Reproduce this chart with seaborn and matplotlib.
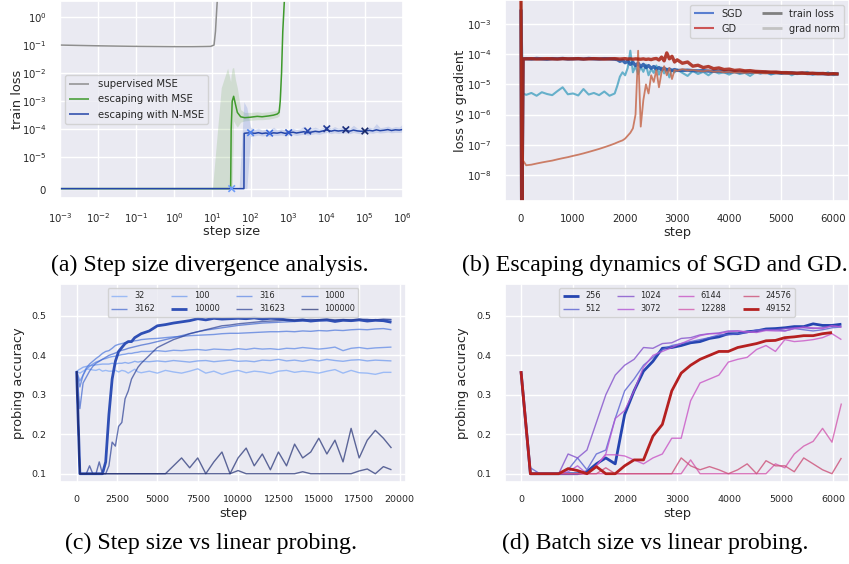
"""
Escaping / probing figure: four panels with captions.
"""

import numpy as np
import matplotlib
matplotlib.use("Agg")
import matplotlib.pyplot as plt
from matplotlib.lines import Line2D
import seaborn as sns

sns.set_theme(style="darkgrid")
plt.rcParams["font.family"] = ["DejaVu Sans"]
plt.rcParams["axes.labelsize"] = 9.3
plt.rcParams["xtick.labelsize"] = 7.3
plt.rcParams["ytick.labelsize"] = 7.3
plt.rcParams["lines.solid_capstyle"] = "butt"

W, H = 849, 564

# ---------------- (a) step size divergence ----------------
sup_x = [1e-3, 3e-3, 1e-2, 3e-2, 1e-1, 3e-1, 1, 3, 6, 9, 11, 12, 13, 14]
sup_loss = [0.10, 0.097, 0.094, 0.092, 0.090, 0.089, 0.088, 0.088, 0.089, 0.090, 0.10, 0.3, 2.0, 10.0]

mse_x = [1e-3, 10, 17, 20, 25, 30, 31, 33, 36, 40, 45, 55, 70, 100, 150, 200, 300, 400, 500, 560, 600, 650, 700, 800]
mse_loss = np.array([0, 0, 0, 0, 0, 0, 10, 100, 150, 80, 40, 28, 26, 27, 29, 28, 30, 32, 35, 40, 100, 1000, 30000, 1e6]) * 1e-5
mse_lo = np.array([0, 0, 0, 0, 0, 0, 0, 0, 20, 15, 12, 18, 20, 21, 22, 22, 23, 25, 27, 30, 60, 800, 25000, 1e6]) * 1e-5
mse_hi = np.array([0, 0, 300, 600, 1500, 500, 900, 1500, 1600, 600, 300, 50, 40, 40, 42, 40, 42, 45, 48, 55, 150, 1500, 40000, 1e6]) * 1e-5

nmse_x = [1e-3, 1, 10, 50, 67, 68, 80, 100, 130, 160, 200, 250, 316, 400, 500, 630, 800, 1000,
          1300, 1600, 2000, 2500, 3160, 4000, 5000, 6300, 8000, 1e4, 1.3e4, 1.6e4, 2e4, 2.5e4,
          3.16e4, 4e4, 5e4, 6.3e4, 8e4, 1e5, 1.3e5, 1.6e5, 2e5, 2.5e5, 3.16e5, 4e5, 5e5, 6.3e5, 8e5, 1e6]
nmse_loss = np.array([0, 0, 0, 0, 0,
                      7.2, 7.4, 7.5, 7.2, 7.6, 7.1, 7.4, 7.0, 7.5, 7.3,
                      7.8, 7.2, 7.5, 7.9, 7.4, 7.8, 8.2, 7.6, 8.0, 8.5,
                      8.1, 8.8, 9.5, 8.6, 9.2, 8.7, 9.0, 9.1, 8.6, 9.4,
                      8.8, 8.5, 8.7, 9.2, 8.8, 9.6, 9.0, 9.3, 9.8, 9.1,
                      9.6, 9.4, 9.9]) * 1e-5
nmse_lo = np.array([0, 0, 0, 0, 0, 0, 0,
                    5.5, 5.9, 6.2, 5.8, 6.0, 5.7, 6.1, 6.0, 6.3, 5.9,
                    6.1, 6.5, 6.0, 6.4, 6.7, 6.2, 6.6, 7.0, 6.6, 7.2,
                    7.7, 7.0, 7.5, 7.1, 7.4, 7.4, 7.0, 7.7, 7.2, 6.9,
                    7.1, 7.5, 7.2, 7.8, 7.4, 7.6, 8.0, 7.5, 7.8, 7.7,
                    8.1]) * 1e-5
nmse_hi = np.array([0, 0, 0, 0,
                    100, 90, 60, 12, 10, 11, 9.5, 10, 9, 12,
                    9.5, 10.5, 9.8, 10, 11, 9.8, 10.5, 13, 9.8, 11,
                    12, 10.5, 11.5, 14, 10.8, 12.5, 11, 11.5, 12, 10.8,
                    14, 11, 10.5, 11, 12, 11, 16, 11.5, 12, 13,
                    11.5, 12.5, 12, 16]) * 1e-5

probe_steps = [32, 100, 316, 1000, 3162, 10000, 31623, 100000]
probe_loss = np.array([0, 7.6, 7.3, 7.6, 8.7, 10.5, 9.7, 8.7]) * 1e-5

# ---------------- (b) escaping dynamics ----------------
steps_b = [0, 15, 40, 100, 200, 300, 400, 500, 600, 700, 800, 900, 1000, 1100, 1200, 1300,
           1400, 1500, 1600, 1700, 1800, 1850, 1900, 1950, 2000, 2050, 2100, 2150, 2200,
           2250, 2300, 2350, 2400, 2450, 2500, 2550, 2600, 2650, 2700, 2750, 2800, 2850,
           2900, 2950, 3000, 3100, 3200, 3300, 3400, 3500, 3600, 3700, 3800, 3900, 4000,
           4100, 4200, 4300, 4400, 4500, 4600, 4700, 4800, 4900, 5000, 5100, 5200, 5300,
           5400, 5500, 5600, 5700, 5800, 5900, 6000, 6100]
sgd_loss = np.array([300, 1e-5, 7.0,
                     7.1, 6.9, 7.2, 7.0, 6.8, 7.1, 7.0, 7.2, 6.9, 7.0, 7.1, 6.9, 7.2, 7.0, 6.9, 7.1, 7.0, 6.8,
                     6.6, 5.8, 6.3, 5.2, 5.9, 4.6, 5.4, 4.2, 5.0, 3.8, 4.6, 3.6, 4.2, 3.4, 3.9, 3.2,
                     3.6, 3.1, 3.4, 3.0, 3.2, 2.9, 3.1, 2.9,
                     2.9, 2.95, 2.85, 2.8, 2.85, 2.75, 2.7, 2.75, 2.65, 2.6, 2.65, 2.55, 2.6, 2.5, 2.55,
                     2.45, 2.5, 2.4, 2.45, 2.4, 2.35, 2.4, 2.3, 2.35, 2.3, 2.25, 2.3, 2.25, 2.2, 2.25, 2.2]) * 1e-5
gd_loss = np.array([1000, 1e-5, 7.0,
                    7.0, 7.1, 6.9, 7.0, 7.1, 7.0, 6.9, 7.1, 7.0, 7.0, 7.1, 6.9, 7.0, 7.1, 7.0, 6.9, 7.0, 7.1,
                    7.0, 6.9, 7.0, 7.1, 6.9, 7.0, 6.8, 7.0, 6.9, 6.8, 7.0, 6.7, 6.9, 6.6, 7.0, 7.2,
                    6.4, 8.0, 6.0, 11.0, 7.0, 8.5, 5.5, 6.5,
                    5.0, 5.5, 4.0, 4.3, 3.6, 3.9, 3.3, 3.5, 3.1, 3.2, 2.9, 3.0, 2.8, 2.85, 2.7,
                    2.65, 2.6, 2.55, 2.55, 2.45, 2.45, 2.4, 2.35, 2.4, 2.3, 2.35, 2.25, 2.3, 2.2, 2.25, 2.2]) * 1e-5
sgd_grad = np.array([500, 50, 0.5,
                     0.45, 0.52, 0.42, 0.55, 0.48, 0.44, 0.6, 0.8, 0.47, 0.5, 0.43, 0.7, 0.46, 0.52, 0.44, 0.58, 0.42, 0.5,
                     0.9, 1.8, 2.5, 2.0, 3.5, 13.0, 2.5, 4.0, 2.2, 3.8, 2.6, 4.5, 2.0, 3.2, 2.4, 4.2,
                     2.1, 3.6, 2.3, 3.3, 1.7, 3.0, 2.5, 3.1,
                     2.4, 1.9, 2.8, 2.2, 2.6, 2.0, 2.7, 2.3, 2.5, 2.1, 2.6, 2.2, 2.4, 1.9, 2.5,
                     2.3, 2.6, 2.1, 2.4, 2.2, 2.5, 2.0, 2.4, 2.2, 2.6, 2.1, 2.3, 2.2, 2.5, 2.0, 2.3]) * 1e-5
gd_grad = np.array([1000, 0.01, 0.003,
                    0.0021, 0.0022, 0.0024, 0.0026, 0.0028, 0.003, 0.0033, 0.0036, 0.0039, 0.0043,
                    0.0047, 0.0052, 0.0058, 0.0065, 0.0073, 0.0083, 0.0095, 0.011,
                    0.012, 0.013, 0.014, 0.016, 0.02, 0.025, 0.035, 0.1, 13.0, 0.04, 0.3, 1.0,
                    0.5, 2.0, 1.2, 3.0, 0.8, 2.5, 4.0, 2.0, 3.5, 1.5, 3.0, 2.8,
                    3.2, 2.9, 3.0, 2.8, 2.7, 2.9, 2.6, 2.7, 2.5, 2.6, 2.45, 2.5, 2.4, 2.5, 2.35,
                    2.4, 2.3, 2.45, 2.3, 2.35, 2.25, 2.3, 2.3, 2.2, 2.3, 2.25, 2.2, 2.3, 2.15, 2.25, 2.2]) * 1e-5

# ---------------- (c) step size vs probing ----------------
steps_c = [0, 200, 400, 600, 800, 1000, 1200, 1400, 1600, 1800, 2000, 2200, 2400, 2600, 2800,
           3000, 3200, 3400, 3600, 3800, 4000, 4500, 5000, 5500, 6000, 6500, 7000, 7500, 8000,
           8500, 9000, 9500, 10000, 10500, 11000, 11500, 12000, 12500, 13000, 13500, 14000,
           14500, 15000, 15500, 16000, 16500, 17000, 17500, 18000, 18500, 19000, 19500]
step_sizes = ["32", "100", "316", "1000", "3162", "10000", "31623", "100000"]
acc_32 = [0.36, 0.355, 0.36, 0.365, 0.365, 0.363, 0.362, 0.365, 0.36, 0.362, 0.36, 0.36, 0.362,
          0.358, 0.362, 0.36, 0.355, 0.36, 0.365, 0.358, 0.356,
          0.36, 0.355, 0.362, 0.358, 0.355, 0.36, 0.366, 0.355, 0.36, 0.352, 0.358, 0.362, 0.356,
          0.36, 0.358, 0.354, 0.36, 0.362, 0.357, 0.36, 0.358, 0.355, 0.36, 0.364, 0.355, 0.362,
          0.356, 0.355, 0.352, 0.357, 0.357]
acc_100 = [0.36, 0.365, 0.37, 0.372, 0.374, 0.375, 0.376, 0.377, 0.378, 0.378, 0.378, 0.38, 0.378,
           0.38, 0.38, 0.382, 0.38, 0.382, 0.385, 0.383, 0.385,
           0.384, 0.386, 0.384, 0.387, 0.385, 0.383, 0.386, 0.387, 0.384, 0.386, 0.388, 0.385,
           0.386, 0.384, 0.388, 0.387, 0.39, 0.386, 0.388, 0.385, 0.389, 0.386, 0.39, 0.387,
           0.385, 0.388, 0.389, 0.386, 0.388, 0.387, 0.386]
acc_316 = [0.36, 0.335, 0.35, 0.365, 0.372, 0.378, 0.383, 0.386, 0.39, 0.392, 0.395, 0.397, 0.398,
           0.40, 0.402, 0.403, 0.405, 0.405, 0.407, 0.408, 0.41,
           0.41, 0.412, 0.41, 0.413, 0.412, 0.414, 0.415, 0.413, 0.416, 0.415, 0.414, 0.417, 0.415,
           0.418, 0.416, 0.417, 0.415, 0.418, 0.417, 0.42, 0.418, 0.416, 0.418, 0.421, 0.412,
           0.418, 0.42, 0.417, 0.419, 0.42, 0.421]
acc_1000 = [0.36, 0.32, 0.35, 0.368, 0.378, 0.385, 0.392, 0.398, 0.405, 0.41, 0.412, 0.418, 0.425,
            0.428, 0.43, 0.432, 0.434, 0.435, 0.437, 0.438, 0.44,
            0.442, 0.443, 0.445, 0.447, 0.448, 0.45, 0.451, 0.452, 0.453, 0.455, 0.456, 0.456,
            0.457, 0.458, 0.459, 0.46, 0.46, 0.461, 0.46, 0.462, 0.461, 0.463, 0.462, 0.464,
            0.463, 0.465, 0.466, 0.465, 0.467, 0.468, 0.465]
acc_3162 = [0.36, 0.265, 0.33, 0.345, 0.36, 0.372, 0.38, 0.385, 0.39, 0.395, 0.40, 0.403, 0.406,
             0.41, 0.413, 0.415, 0.418, 0.42, 0.422, 0.424, 0.426,
             0.43, 0.435, 0.44, 0.445, 0.45, 0.455, 0.46, 0.464, 0.467, 0.47, 0.473, 0.476, 0.478,
             0.48, 0.482, 0.483, 0.484, 0.485, 0.486, 0.487, 0.487, 0.488, 0.488, 0.489, 0.49,
             0.488, 0.49, 0.491, 0.489, 0.49, 0.49]
acc_10000 = [0.36, 0.10, 0.10, 0.10, 0.10, 0.10, 0.10, 0.10, 0.10, 0.13, 0.25, 0.34, 0.385, 0.41,
             0.42, 0.43, 0.435, 0.435, 0.445, 0.45, 0.455,
             0.462, 0.475, 0.478, 0.482, 0.485, 0.488, 0.493, 0.49, 0.494, 0.492, 0.493, 0.494,
             0.493, 0.495, 0.492, 0.494, 0.493, 0.49, 0.488, 0.49, 0.487, 0.489, 0.49, 0.486,
             0.489, 0.488, 0.49, 0.487, 0.489, 0.488, 0.484]
acc_31623 = [0.36, 0.10, 0.10, 0.10, 0.12, 0.10, 0.10, 0.13, 0.10, 0.10, 0.12, 0.18, 0.17, 0.22,
             0.23, 0.29, 0.31, 0.34, 0.355, 0.37, 0.38,
             0.40, 0.42, 0.43, 0.44, 0.447, 0.455, 0.46, 0.465, 0.47, 0.475, 0.477, 0.48, 0.482,
             0.484, 0.486, 0.487, 0.488, 0.49, 0.489, 0.49, 0.491, 0.49, 0.492, 0.49, 0.491,
             0.49, 0.492, 0.491, 0.49, 0.492, 0.491]
acc_100000 = [0.36, 0.10, 0.10, 0.10, 0.10, 0.10, 0.10, 0.10, 0.10, 0.10, 0.10, 0.10, 0.10, 0.10,
              0.10, 0.10, 0.10, 0.10, 0.10, 0.10, 0.10,
              0.10, 0.10, 0.10, 0.12, 0.14, 0.115, 0.14, 0.10, 0.13, 0.155, 0.10, 0.14, 0.165,
              0.12, 0.15, 0.11, 0.155, 0.12, 0.175, 0.14, 0.155, 0.19, 0.15, 0.185, 0.13, 0.215,
              0.14, 0.185, 0.21, 0.19, 0.165]
acc_extra = [0.36, 0.10, 0.10, 0.10, 0.10, 0.10, 0.10, 0.10, 0.10, 0.10, 0.10, 0.10, 0.10, 0.10,
             0.10, 0.10, 0.10, 0.10, 0.10, 0.10, 0.10,
             0.10, 0.10, 0.10, 0.10, 0.10, 0.10, 0.10, 0.10, 0.10, 0.10, 0.10, 0.108, 0.10,
             0.10, 0.10, 0.10, 0.10, 0.10, 0.10, 0.105, 0.10, 0.10, 0.10, 0.10, 0.10, 0.10,
             0.107, 0.112, 0.10, 0.118, 0.11]
acc_c = [acc_32, acc_100, acc_316, acc_1000, acc_3162, acc_10000, acc_31623, acc_100000]

# ---------------- (d) batch size vs probing ----------------
steps_d = [0, 181, 362, 543, 724, 905, 1086, 1267, 1448, 1629, 1810, 1991, 2172, 2353, 2534,
           2715, 2896, 3077, 3258, 3439, 3620, 3801, 3982, 4163, 4344, 4525, 4706, 4887, 5068,
           5249, 5430, 5611, 5792, 5973, 6154]
batch_sizes = ["256", "512", "1024", "3072", "6144", "12288", "24576", "49152"]
acc_256 = [0.36, 0.10, 0.10, 0.10, 0.10, 0.10, 0.10, 0.105, 0.125, 0.14, 0.125, 0.25, 0.31, 0.36,
           0.385, 0.418, 0.42, 0.425, 0.432, 0.435, 0.443, 0.447, 0.455, 0.455, 0.46, 0.462,
           0.467, 0.468, 0.47, 0.473, 0.473, 0.48, 0.476, 0.476, 0.479]
acc_512 = [0.36, 0.115, 0.10, 0.10, 0.10, 0.11, 0.14, 0.11, 0.15, 0.16, 0.24, 0.31, 0.34, 0.375,
           0.395, 0.415, 0.425, 0.43, 0.435, 0.44, 0.445, 0.452, 0.452, 0.455, 0.458, 0.465,
           0.465, 0.465, 0.462, 0.468, 0.465, 0.462, 0.465, 0.47, 0.472]
acc_1024 = [0.36, 0.10, 0.10, 0.10, 0.10, 0.15, 0.14, 0.16, 0.23, 0.30, 0.35, 0.375, 0.39, 0.42,
            0.418, 0.43, 0.432, 0.443, 0.445, 0.452, 0.455, 0.457, 0.462, 0.462, 0.458, 0.462,
            0.465, 0.465, 0.468, 0.47, 0.47, 0.468, 0.47, 0.475, 0.473]
acc_3072 = [0.36, 0.10, 0.10, 0.10, 0.10, 0.105, 0.12, 0.10, 0.12, 0.15, 0.24, 0.26, 0.31, 0.37,
            0.40, 0.41, 0.42, 0.43, 0.44, 0.45, 0.455, 0.455, 0.46, 0.462, 0.46, 0.458, 0.463,
            0.462, 0.462, 0.468, 0.472, 0.47, 0.468, 0.475, 0.472]
acc_6144 = [0.36, 0.10, 0.10, 0.10, 0.10, 0.10, 0.10, 0.10, 0.12, 0.148, 0.148, 0.145, 0.135,
            0.125, 0.14, 0.15, 0.19, 0.19, 0.285, 0.33, 0.34, 0.35, 0.383, 0.39, 0.395, 0.415,
            0.425, 0.41, 0.44, 0.435, 0.437, 0.44, 0.445, 0.455, 0.44]
acc_12288 = [0.36, 0.10, 0.10, 0.10, 0.10, 0.10, 0.10, 0.10, 0.10, 0.10, 0.10, 0.10, 0.10, 0.10,
             0.10, 0.10, 0.10, 0.10, 0.135, 0.10, 0.10, 0.10, 0.10, 0.10, 0.10, 0.10, 0.10,
             0.125, 0.115, 0.15, 0.17, 0.182, 0.215, 0.18, 0.278]
acc_24576 = [0.36, 0.10, 0.10, 0.10, 0.10, 0.10, 0.10, 0.10, 0.10, 0.115, 0.10, 0.10, 0.10, 0.10,
             0.10, 0.10, 0.10, 0.14, 0.12, 0.11, 0.118, 0.11, 0.10, 0.11, 0.125, 0.10, 0.133,
             0.12, 0.12, 0.105, 0.14, 0.125, 0.11, 0.10, 0.14]
acc_49152 = [0.36, 0.10, 0.10, 0.10, 0.10, 0.113, 0.108, 0.10, 0.118, 0.10, 0.10, 0.12, 0.135,
             0.135, 0.195, 0.225, 0.31, 0.355, 0.375, 0.39, 0.40, 0.41, 0.41, 0.42, 0.425, 0.43,
             0.437, 0.438, 0.445, 0.447, 0.45, 0.45, 0.455, 0.458]
acc_d = [acc_256, acc_512, acc_1024, acc_3072, acc_6144, acc_12288, acc_24576, acc_49152]

# colours
step_colors = ["#7ba7f7", "#6996ef", "#5a86e6", "#4b76dc", "#3f66cf", "#2f4fb5", "#2a3f95", "#1f2d72"]
batch_colors = ["#2545b0", "#5a62d2", "#8452cc", "#b255d4", "#c956c6", "#d35aae", "#cc5078", "#b52020"]


def rect(l, t, r, b):
    return [l / W, 1 - b / H, (r - l) / W, (b - t) / H]


fig = plt.figure(figsize=(W / 100, H / 100), dpi=100)
ax_a = fig.add_axes(rect(60, 1, 403, 198))
ax_b = fig.add_axes(rect(505, 0, 849, 201))
ax_c = fig.add_axes(rect(60, 284, 406, 482))
ax_d = fig.add_axes(rect(505, 284, 849, 482))

# ---- panel (a)
ax_a.set_xscale("log")
ax_a.set_yscale("symlog", linthresh=1e-5)
ax_a.fill_between(mse_x, mse_lo, mse_hi, color="#5aa040", alpha=0.18, lw=0)
ax_a.fill_between(nmse_x, nmse_lo, nmse_hi, color="#4a6fd0", alpha=0.2, lw=0)
sns.lineplot(x=sup_x, y=sup_loss, ax=ax_a, color="#8e8e8e", linewidth=1.1, label="supervised MSE")
sns.lineplot(x=mse_x, y=mse_loss, ax=ax_a, color="#3f9a2c", linewidth=1.1, label="escaping with MSE")
sns.lineplot(x=nmse_x, y=nmse_loss, ax=ax_a, color="#2445a8", linewidth=1.1, label="escaping with N-MSE")
ax_a.scatter(probe_steps, probe_loss, marker="x", s=22, linewidths=1.2,
             c=["#6f9cf7", "#4f80ea", "#3d6bdc", "#3158c8", "#2a49b0", "#233b96", "#1d307d", "#182868"],
             zorder=5)
ax_a.set_xlim(1e-3, 1e6)
ax_a.set_ylim(-3e-6, 3.7)
ax_a.set_xticks([1e-3, 1e-2, 1e-1, 1, 1e1, 1e2, 1e3, 1e4, 1e5, 1e6])
ax_a.set_yticks([0, 1e-5, 1e-4, 1e-3, 1e-2, 1e-1, 1])
ax_a.set_xlabel("step size", labelpad=0)
ax_a.set_ylabel("train loss")
ax_a.yaxis.set_label_coords(-0.105, 0.5)
ax_a.legend(loc="center left", fontsize=7.3, bbox_to_anchor=(0.0, 0.5))

# ---- panel (b)
ax_b.set_yscale("log")
sns.lineplot(x=steps_b, y=sgd_grad, ax=ax_b, color="#4fa6c4", linewidth=1.5, alpha=0.85)
sns.lineplot(x=steps_b, y=sgd_loss, ax=ax_b, color="#1f55a8", linewidth=2.4, alpha=0.85)
sns.lineplot(x=steps_b, y=gd_grad, ax=ax_b, color="#c66a4e", linewidth=1.3, alpha=0.85)
sns.lineplot(x=steps_b, y=gd_loss, ax=ax_b, color="#a82010", linewidth=2.4, alpha=0.85)
ax_b.set_xlim(-307, 6300)
ax_b.set_ylim(1.38e-9, 6.2e-3)
ax_b.set_xticks([0, 1000, 2000, 3000, 4000, 5000, 6000])
ax_b.set_yticks([1e-8, 1e-7, 1e-6, 1e-5, 1e-4, 1e-3])
ax_b.set_xlabel("step", labelpad=1)
ax_b.set_ylabel("loss vs gradient")
ax_b.yaxis.set_label_coords(-0.110, 0.5)
legend_b = [Line2D([], [], color="#5a7fd0", lw=1.5, label="SGD"),
            Line2D([], [], color="#cc5555", lw=1.5, label="GD"),
            Line2D([], [], color="#808080", lw=2.0, label="train loss"),
            Line2D([], [], color="#c2c2c2", lw=2.0, label="grad norm")]
ax_b.legend(handles=legend_b, loc="upper right", ncol=2, fontsize=7.0)

# ---- panel (c)
for i, (name, acc) in enumerate(zip(step_sizes, acc_c)):
    thick = name == "10000"
    sns.lineplot(x=steps_c, y=acc, ax=ax_c, color=step_colors[i],
                 linewidth=2.0 if thick else 1.0, alpha=1.0 if thick else 0.7, label=name)
sns.lineplot(x=steps_c, y=acc_extra, ax=ax_c, color=step_colors[7], linewidth=1.0, alpha=0.7)
ax_c.set_xlim(-1030, 20400)
ax_c.set_ylim(0.079, 0.581)
ax_c.set_xticks([0, 2500, 5000, 7500, 10000, 12500, 15000, 17500, 20000])
ax_c.set_yticks([0.1, 0.2, 0.3, 0.4, 0.5])
ax_c.tick_params(labelsize=6.8)
ax_c.set_xlabel("step", labelpad=2)
ax_c.set_ylabel("probing accuracy")
ax_c.yaxis.set_label_coords(-0.101, 0.5)
h_c, l_c = ax_c.get_legend_handles_labels()
order = [0, 4, 1, 5, 2, 6, 3, 7]
ax_c.legend([h_c[k] for k in order], [l_c[k] for k in order], loc="upper center", ncol=4, fontsize=5.9)

# ---- panel (d)
for i, (name, acc) in enumerate(zip(batch_sizes, acc_d)):
    thick = name in ("256", "49152")
    sns.lineplot(x=steps_d[:len(acc)], y=acc, ax=ax_d, color=batch_colors[i],
                 linewidth=2.0 if thick else 1.0, alpha=1.0 if thick else 0.8, label=name)
ax_d.set_xlim(-307, 6300)
ax_d.set_ylim(0.079, 0.581)
ax_d.set_xticks([0, 1000, 2000, 3000, 4000, 5000, 6000])
ax_d.set_yticks([0.1, 0.2, 0.3, 0.4, 0.5])
ax_d.tick_params(labelsize=6.8)
ax_d.set_xlabel("step", labelpad=2)
ax_d.set_ylabel("probing accuracy")
ax_d.yaxis.set_label_coords(-0.105, 0.5)
ax_d.legend(loc="upper center", ncol=4, fontsize=5.9)

# captions
cap = dict(ha="center", va="center", family="Liberation Serif", fontsize=17.2, color="black")
fig.text(210 / W, 1 - 265 / H, "(a) Step size divergence analysis.", **cap)
fig.text(655 / W, 1 - 265 / H, "(b) Escaping dynamics of SGD and GD.", **cap)
fig.text(211 / W, 1 - 543 / H, "(c) Step size vs linear probing.", **cap)
fig.text(655 / W, 1 - 543 / H, "(d) Batch size vs linear probing.", **cap)

fig.savefig("out.png", dpi=100)
